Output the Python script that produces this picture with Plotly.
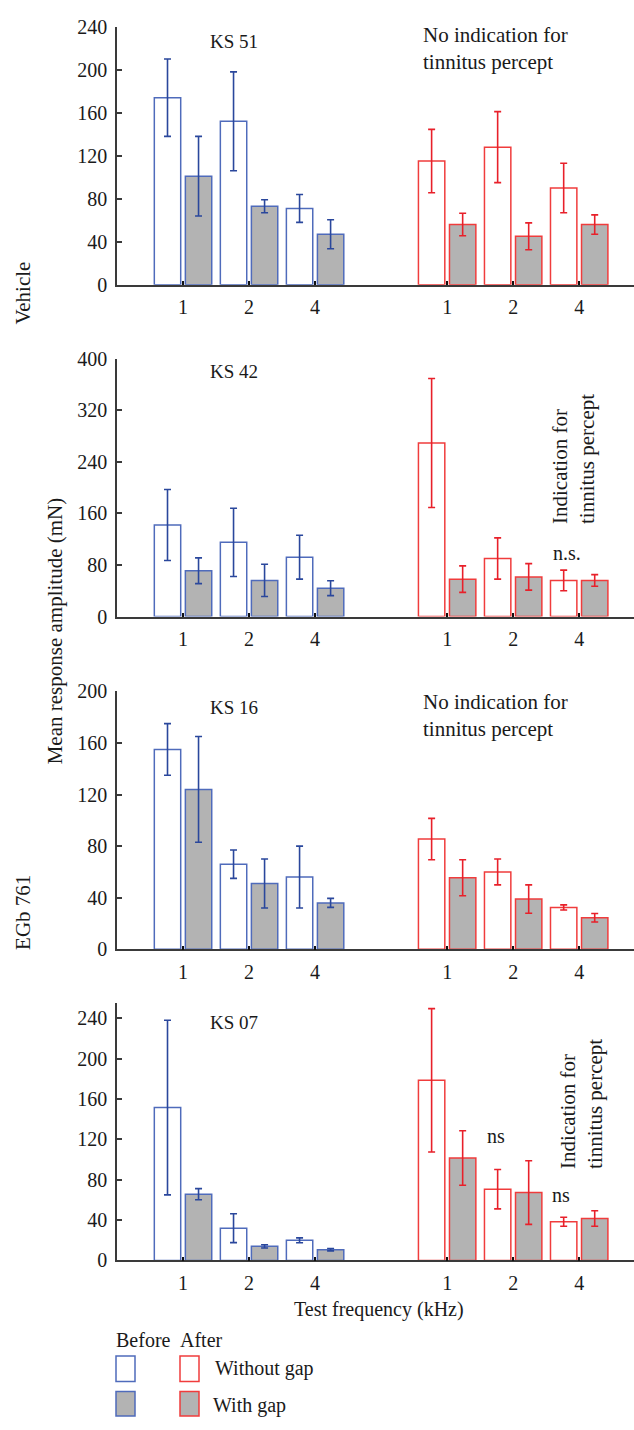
import plotly.graph_objects as go

# ---------------------------------------------------------------- data
freq_labels = ["1", "2", "4"]
before_pos = [0, 1, 2]
after_pos = [4, 5, 6]

# Vehicle, KS 51
ks51_before_nogap = [174, 152, 71]
ks51_before_nogap_err = [36, 46, 13]
ks51_before_gap = [101, 73, 47]
ks51_before_gap_err = [37, 6, 13.5]
ks51_after_nogap = [115, 128, 90]
ks51_after_nogap_err = [29.5, 33, 23]
ks51_after_gap = [56, 45, 56]
ks51_after_gap_err = [10.5, 12.5, 9]

# Vehicle, KS 42
ks42_before_nogap = [142, 115, 92]
ks42_before_nogap_err = [55, 53, 34]
ks42_before_gap = [71, 56, 44]
ks42_before_gap_err = [20, 25, 11.5]
ks42_after_nogap = [269, 90, 56]
ks42_after_nogap_err = [100, 32, 16]
ks42_after_gap = [58, 61.5, 56]
ks42_after_gap_err = [20.5, 20.5, 9]

# EGb 761, KS 16
ks16_before_nogap = [155, 66, 56]
ks16_before_nogap_err = [20, 11, 24]
ks16_before_gap = [124, 51, 36]
ks16_before_gap_err = [41, 19, 3.5]
ks16_after_nogap = [85.5, 60, 32.5]
ks16_after_nogap_err = [16, 10, 2]
ks16_after_gap = [55.5, 39, 24.5]
ks16_after_gap_err = [14, 11, 3.3]

# EGb 761, KS 07
ks07_before_nogap = [151.5, 32, 20]
ks07_before_nogap_err = [86.5, 14.3, 2.4]
ks07_before_gap = [65.7, 14, 10.7]
ks07_before_gap_err = [5.5, 1.6, 1.2]
ks07_after_nogap = [178.5, 70.6, 38.4]
ks07_after_nogap_err = [71, 19.5, 4.5]
ks07_after_gap = [101.5, 67.3, 41.6]
ks07_after_gap_err = [27, 31.5, 7.7]

panels = [
    dict(name="KS 51",
         series=[(ks51_before_nogap, ks51_before_nogap_err), (ks51_before_gap, ks51_before_gap_err),
                 (ks51_after_nogap, ks51_after_nogap_err), (ks51_after_gap, ks51_after_gap_err)]),
    dict(name="KS 42",
         series=[(ks42_before_nogap, ks42_before_nogap_err), (ks42_before_gap, ks42_before_gap_err),
                 (ks42_after_nogap, ks42_after_nogap_err), (ks42_after_gap, ks42_after_gap_err)]),
    dict(name="KS 16",
         series=[(ks16_before_nogap, ks16_before_nogap_err), (ks16_before_gap, ks16_before_gap_err),
                 (ks16_after_nogap, ks16_after_nogap_err), (ks16_after_gap, ks16_after_gap_err)]),
    dict(name="KS 07",
         series=[(ks07_before_nogap, ks07_before_nogap_err), (ks07_before_gap, ks07_before_gap_err),
                 (ks07_after_nogap, ks07_after_nogap_err), (ks07_after_gap, ks07_after_gap_err)]),
]

# ---------------------------------------------------------------- layout geometry (pixels)
W, H = 634, 1430
AX_LEFT = 117
panel_geom = [  # top px, bottom px, y max, tick step
    (16, 278, 240, 40),
    (353, 615, 400, 80),
    (691, 953, 200, 40),
    (1007, 1269, 255.6, 40),
]
label_y = [31, 366, 707, 1027]

FONT = "Liberation Serif"
TXT = "#1a1a1a"
AXC = "#3a3a3a"
BLUE_LINE = "#4f6bbb"
BLUE_ERR = "#2a479c"
RED_LINE = "#f03c3c"
RED_ERR = "#e8202a"
GRAY = "#b3b3b3"
TICK_SIZE = 20
NOTE_SIZE = 21


def fx(px):
    return px / W


def fy(py):
    return 1 - py / H


fig = go.Figure()

styles = [
    (before_pos, "white", BLUE_LINE, BLUE_ERR, "nogap"),
    (before_pos, GRAY, BLUE_LINE, BLUE_ERR, "gap"),
    (after_pos, "white", RED_LINE, RED_ERR, "nogap"),
    (after_pos, GRAY, RED_LINE, RED_ERR, "gap"),
]

for i, p in enumerate(panels):
    xa = "x" if i == 0 else f"x{i + 1}"
    ya = "y" if i == 0 else f"y{i + 1}"
    for (vals, errs), (pos, fill, line, errc, grp) in zip(p["series"], styles):
        fig.add_trace(go.Bar(
            x=pos, y=vals, xaxis=xa, yaxis=ya, offsetgroup=grp,
            marker=dict(color=fill, line=dict(color=line, width=1.5)),
            error_y=dict(type="data", array=errs, visible=True, color=errc,
                         thickness=1.6, width=3.5),
            showlegend=False, hoverinfo="skip",
        ))

layout = dict(
    width=W, height=H, margin=dict(l=0, r=0, t=0, b=0),
    paper_bgcolor="white", plot_bgcolor="white",
    barmode="group", bargap=0.06, bargroupgap=0.15,
    font=dict(family=FONT, size=18, color=TXT),
    showlegend=False,
)

for i, (top, bot, ymax, step) in enumerate(panel_geom):
    sx = "" if i == 0 else str(i + 1)
    layout[f"xaxis{sx}"] = dict(
        domain=[fx(AX_LEFT), 1], range=[-1, 6.83], anchor=f"y{sx}",
        tickvals=before_pos + after_pos, ticktext=freq_labels + freq_labels,
        ticks="inside", ticklen=4, tickwidth=1.5, tickcolor="#111",
        showline=True, linecolor=AXC, linewidth=1.5,
        showgrid=False, zeroline=False, ticklabelstandoff=4,
        tickfont=dict(size=TICK_SIZE, family=FONT, color=TXT),
    )
    layout[f"yaxis{sx}"] = dict(
        domain=[fy(bot), fy(top)], range=[0, ymax], anchor=f"x{sx}",
        tick0=0, dtick=step,
        ticks="inside", ticklen=5, tickwidth=1.5, tickcolor=AXC,
        showline=True, linecolor=AXC, linewidth=1.5,
        showgrid=False, zeroline=False, ticklabelstandoff=4,
        tickfont=dict(size=TICK_SIZE, family=FONT, color=TXT),
    )

fig.update_layout(**layout)


def note(text, x, y, size=NOTE_SIZE, xanchor="center", angle=0, align="center"):
    fig.add_annotation(
        text=text, x=fx(x), y=fy(y), xref="paper", yref="paper",
        xanchor=xanchor, yanchor="middle", showarrow=False, textangle=angle,
        align=align, font=dict(size=size, family=FONT, color=TXT),
    )


for p, ly in zip(panels, label_y):
    note(p["name"], 234, ly, size=19)

note("No indication for<br>tinnitus percept", 421, 38, xanchor="left", align="left")
note("No indication for<br>tinnitus percept", 421, 715, xanchor="left", align="left")
note("Indication for<br>tinnitus percept", 574, 455, angle=-90, align="left")
note("Indication for<br>tinnitus percept", 582, 1110, angle=-90, align="left")
note("n.s.", 567, 550, size=20)
note("ns", 496, 1143, size=20)
note("ns", 561, 1202, size=20)

note("Test frequency (kHz)", 379, 1319, size=20)
note("Vehicle", 23, 287, size=21, angle=-90)
note("Mean response amplitude (mN)", 55, 630, size=21, angle=-90)
note("EGb 761", 23, 916, size=21, angle=-90)

# key
note("Before", 114, 1350, size=20, xanchor="left")
note("After", 178, 1350, size=20, xanchor="left")
note("Without gap", 213, 1379, size=20, xanchor="left")
note("With gap", 211, 1416, size=20, xanchor="left")

key_boxes = [
    (116, 1366, 135, 1392, "white", BLUE_LINE),
    (180, 1366, 199, 1392, "white", RED_LINE),
    (116, 1402, 135, 1427, GRAY, BLUE_LINE),
    (180, 1402, 199, 1427, GRAY, RED_LINE),
]
for x0, y0, x1, y1, fill, line in key_boxes:
    fig.add_shape(type="rect", xref="paper", yref="paper",
                  x0=fx(x0), x1=fx(x1), y0=fy(y1), y1=fy(y0),
                  fillcolor=fill, line=dict(color=line, width=1.5))

# the figure fills the page exactly, so the page body gets no margin
fig.write_html("out.html", post_script="document.body.style.margin = '0';")
